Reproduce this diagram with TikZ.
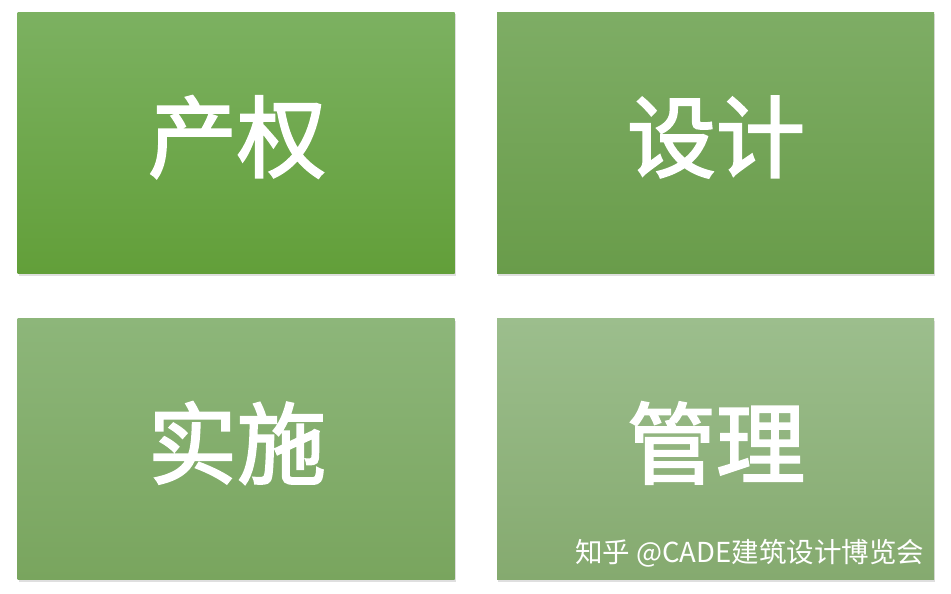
\documentclass[tikz,border=0pt]{standalone}
\usepackage{fontspec}
\newfontfamily\cjk{Noto Sans CJK SC}
\newfontfamily\cjkheavy{Noto Sans CJK SC}[FakeBold=2.2]
\usepackage{tikz}
\usetikzlibrary{shadows}

\begin{document}
\begin{tikzpicture}[x=1pt, y=-1pt]
    \tikzstyle{panel} = [rectangle, minimum width=437pt, minimum height=261pt,
	inner sep=0pt, shading=axis, shading angle=0,
	drop shadow={shadow xshift=1pt, shadow yshift=-2pt, opacity=0.25}]
    \tikzstyle{word} = [white, font=\cjkheavy\fontsize{89}{89}\selectfont,
	inner sep=0pt]

	\useasboundingbox[fill=white] (0,0) rectangle (951,594);

	\begin{scope}
		\node[panel, top color={rgb,255:red,124;green,177;blue,97},
			bottom color={rgb,255:red,98;green,159;blue,57}] (PQ) at (236,143) {};
		\node[panel, top color={rgb,255:red,126;green,173;blue,101},
			bottom color={rgb,255:red,105;green,156;blue,74}] (SJ) at (715.5,143) {};
		\node[panel, top color={rgb,255:red,141;green,182;blue,122},
			bottom color={rgb,255:red,121;green,165;blue,94}] (SS) at (236,449) {};
		\node[panel, top color={rgb,255:red,156;green,190;blue,141},
			bottom color={rgb,255:red,133;green,170;blue,111}] (GL) at (715.5,449) {};

		\node[word] (PQt) at (237,137) {产权};
		\node[word] (SJt) at (716,137) {设计};
		\node[word] (SSt) at (237,443) {实施};
		\node[word] (GLt) at (716,443) {管理};

		% watermark
		\node[anchor=west, white, font=\cjk\fontsize{27.5}{27.5}\selectfont,
			inner sep=0pt] (WM) at (575,553) {知乎 @CADE建筑设计博览会};
	\end{scope}
\end{tikzpicture}
\end{document}
